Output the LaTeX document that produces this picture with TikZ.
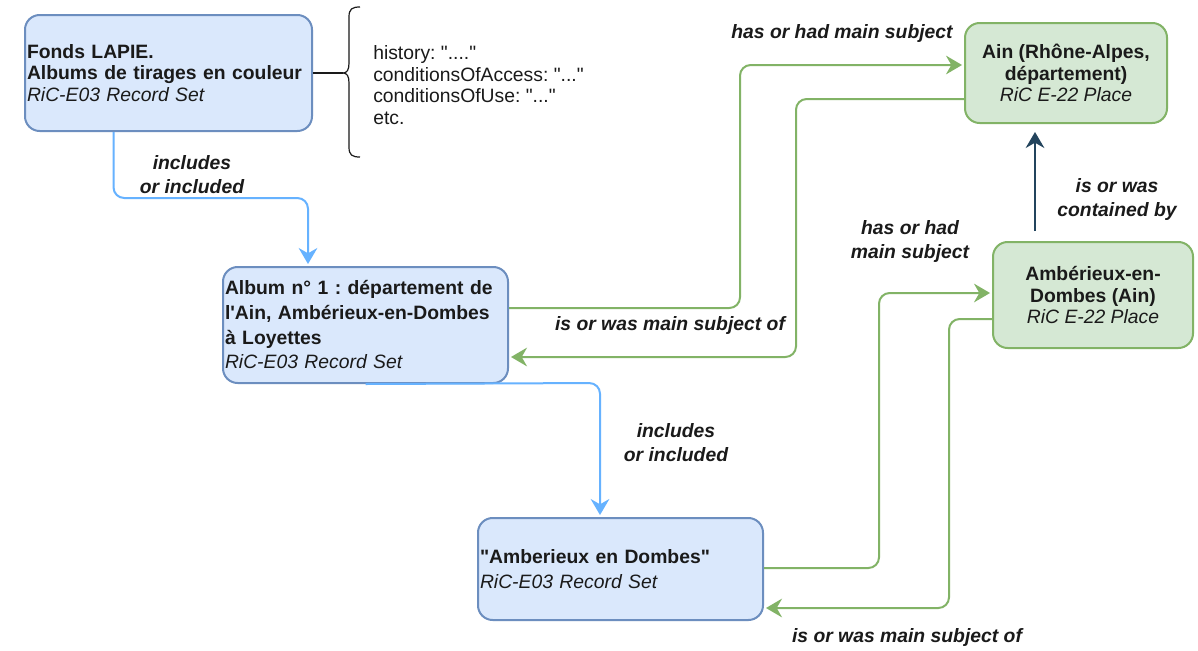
\documentclass[tikz,border=0pt]{standalone}
\usepackage{fontspec}
\setmainfont{Liberation Sans}
\newfontfamily\nomap{Liberation Sans}
\usetikzlibrary{arrows.meta,calc}
\definecolor{bfill}{HTML}{DAE8FC}
\definecolor{bdraw}{HTML}{6C8EBF}
\definecolor{gfill}{HTML}{D5E8D4}
\definecolor{gdraw}{HTML}{82B366}
\definecolor{blink}{HTML}{66B2FF}
\definecolor{dlink}{HTML}{23445D}
\definecolor{txt}{HTML}{1A1A1A}
\newcommand\fsA{\nomap\fontsize{14.5}{16}\selectfont}
\newcommand\fsB{\nomap\fontsize{14.5}{18.5}\selectfont}
\frenchspacing
\begin{document}
\begin{tikzpicture}[x=0.75pt,y=-0.75pt,
  box/.style={draw, line width=1.5pt, rounded corners=11pt, inner xsep=1.5pt, inner ysep=0pt, text=txt},
  bluebox/.style={box, draw=bdraw, fill=bfill},
  greenbox/.style={box, draw=gdraw, fill=gfill, align=center, font=\fsA},
  lbl/.style={font=\nomap\fontsize{14.5}{18}\selectfont\bfseries\itshape, text=txt, align=center, inner sep=0pt},
  tip/.style={-{Stealth[length=12pt,width=14pt,inset=4pt]}},
  blueline/.style={draw=blink, line width=1.5pt, rounded corners=8pt, tip},
  greenline/.style={draw=gdraw, line width=1.5pt, rounded corners=8pt, tip},
  darkline/.style={draw=dlink, line width=1.5pt, tip},
  plain/.style={draw=txt, line width=0.9pt}
]
\nomap
\useasboundingbox[fill=white] (0,0) rectangle (1198,650);

% record sets
\node[bluebox, minimum width=215.25pt, minimum height=87pt, text width=212.25pt, align=left, font=\fsA] (A) at (168.5,73)
  {\textbf{Fonds LAPIE.}\\ \textbf{Albums de tirages en couleur}\\ \textit{RiC-E03 Record Set}};
\node[bluebox, minimum width=213.75pt, minimum height=87pt, text width=210.75pt, align=left, font=\fsB] (B) at (365.5,325)
  {\textbf{Album n° 1 : département de}\\ \textbf{l'Ain, Ambérieux-en-Dombes}\\ \textbf{à Loyettes}\\ \textit{RiC-E03 Record Set}};
\node[bluebox, minimum width=213.75pt, minimum height=76.5pt, text width=210.75pt, align=left, font=\fsB] (C) at (620.5,569)
  {\textbf{"Amberieux en Dombes"}\\ \textit{RiC-E03 Record Set}};

% places
\node[greenbox, minimum width=151.5pt, minimum height=75pt] (Ain) at (1066,73)
  {\textbf{Ain (Rhône-Alpes,}\\ \textbf{département)}\\ \textit{RiC E-22 Place}};
\node[greenbox, minimum width=150pt, minimum height=79.5pt] (Amb) at (1093,295)
  {\textbf{Ambérieux-en-}\\ \textbf{Dombes (Ain)}\\ \textit{RiC E-22 Place}};

% brace with properties
\coordinate (bt) at (343,73);
\draw[plain] (360,7) .. controls (352,7) and (349,9) .. (349,17) -- (349,63)
  .. controls (349,70) and (347,73) .. (bt)
  .. controls (347,73) and (349,76) .. (349,83) -- (349,147)
  .. controls (349,155) and (352,157) .. (360,157);
\draw[plain] (A.east) -- (bt);
\node[anchor=west, align=left, inner sep=0pt, text=txt, font=\nomap\fontsize{14.5}{16.3}\selectfont] (props) at (373,85)
  {history: "...."\\ conditionsOfAccess: "..."\\ conditionsOfUse: "..."\\ etc.};

% includes links
\draw[blueline] ($(A.south)+(-55,0)$) -- (113.5,198) -- (308,198) -- ($(B.north)+(-57.5,-2)$);
\node[lbl] (l1) at (192,174.5) {includes\\or included};
\draw[blueline] (B.south) -- (600,383) -- ($(C.north)+(-20.5,-2)$);
\node[lbl] (l2) at (676,442.5) {includes\\or included};

% subject links
\draw[greenline] ($(B.east)+(0,-17)$) -- (740,308) -- (740,65) -- ($(Ain.west)+(-2,-8)$);
\node[lbl] (l3) at (842,33) {has or had main subject};
\draw[greenline] ($(Ain.west)+(0,26)$) -- (796,99) -- (796,357) -- ($(B.east)+(2,32)$);
\node[lbl] (l4) at (670,325) {is or was main subject of};
\draw[greenline] ($(C.east)+(0,-1)$) -- (879,568) -- (879,293) -- ($(Amb.west)+(-2,-2)$);
\node[lbl] (l5) at (910,241.5) {has or had\\main subject};
\draw[greenline] ($(Amb.west)+(0,24)$) -- (949,319) -- (949,608) -- ($(C.east)+(2,39)$);
\node[lbl] (l7) at (907,637) {is or was main subject of};

% containment
\draw[darkline] ($(Amb.north)+(-58,-10)$) -- ($(Ain.south)+(-31,8)$);
\node[lbl] (l6) at (1117,199.5) {is or was\\contained by};
\end{tikzpicture}
\end{document}
